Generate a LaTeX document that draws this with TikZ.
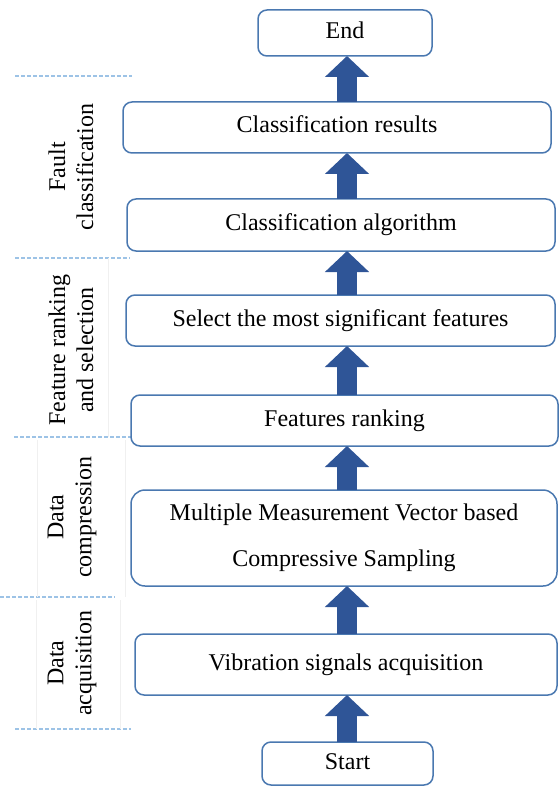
\documentclass[tikz,border=0pt]{standalone}
\usepackage{fontspec}
\setmainfont{Liberation Serif}
\usetikzlibrary{arrows.meta}
\definecolor{boxblue}{HTML}{4A78B0}
\definecolor{arrowblue}{HTML}{2F5597}
\definecolor{dashblue}{HTML}{9DC3E6}
\tikzset{
  stepbox/.style={draw=boxblue, line width=1.5pt, rounded corners=9pt, fill=white,
    inner sep=0pt, outer sep=0pt, font=\fontsize{24}{28}\selectfont,
    text height=16pt, text depth=5pt},
  bigarrow/.style={draw=arrowblue, line width=20pt,
    -{Triangle[width=43pt,length=21pt]}},
  sepline/.style={draw=dashblue, line width=1.3pt, dash pattern=on 4pt off 2pt},
  faint/.style={draw=black!6, line width=0.6pt},
  sidelabel/.style={rotate=90, align=center, font=\fontsize{24}{28}\selectfont, inner sep=0pt}
}
\begin{document}
\begin{tikzpicture}[x=1pt, y=-1pt]
\useasboundingbox (0,0) rectangle (559,786);
% side separators
\draw[sepline] (15,76) -- (132,76);
\draw[sepline] (15,258) -- (130,258);
\draw[sepline] (14,437) -- (131,437);
\draw[sepline] (0,597) -- (115,597);
\draw[sepline] (15,729) -- (131,729);
% faint label frames
\draw[faint] (108,258) -- (108,437);
\draw[faint] (37,440) -- (37,597);
\draw[faint] (125,440) -- (125,597);
\draw[faint] (36,600) -- (36,729);
\draw[faint] (120,600) -- (120,729);
% side labels
\node[sidelabel] (lfault) at (71,167) {Fault\\classification};
\node[sidelabel] (lfeat) at (71,350) {Feature ranking\\and selection};
\node[sidelabel] (lcomp) at (72,517) {Data\\compression};
\node[sidelabel] (lacq) at (72,663) {Data\\acquisition};
% boxes
\node[stepbox, minimum width=174pt, minimum height=46pt] (end) at (345,33) {End};
\node[stepbox, minimum width=428pt, minimum height=51pt] (res) at (337,127.5) {Classification results};
\node[stepbox, minimum width=428pt, minimum height=52pt] (alg) at (341,225) {Classification algorithm};
\node[stepbox, minimum width=429pt, minimum height=51pt] (sel) at (340.5,320.5) {Select the most significant features};
\node[stepbox, minimum width=427pt, minimum height=51pt] (rank) at (344.5,420.5) {Features ranking};
\node[stepbox, minimum width=426pt, minimum height=96pt, rounded corners=14pt, text height=, text depth=,
  align=center, font=\fontsize{24}{46}\selectfont] (mmv) at (344,538) {Multiple Measurement Vector based\\Compressive Sampling};
\node[stepbox, minimum width=422pt, minimum height=61pt] (vib) at (346,664.5) {Vibration signals acquisition};
\node[stepbox, minimum width=171pt, minimum height=43pt] (start) at (347.5,763.5) {Start};
% arrows
\coordinate (ax) at (347,0);
\draw[bigarrow] (start.north -| ax) -- (vib.south -| ax);
\draw[bigarrow] (vib.north -| ax) -- (mmv.south -| ax);
\draw[bigarrow] (mmv.north -| ax) -- (rank.south -| ax);
\draw[bigarrow] (rank.north -| ax) -- (sel.south -| ax);
\draw[bigarrow] (sel.north -| ax) -- (alg.south -| ax);
\draw[bigarrow] (alg.north -| ax) -- (res.south -| ax);
\draw[bigarrow] (res.north -| ax) -- (end.south -| ax);
\end{tikzpicture}
\end{document}
